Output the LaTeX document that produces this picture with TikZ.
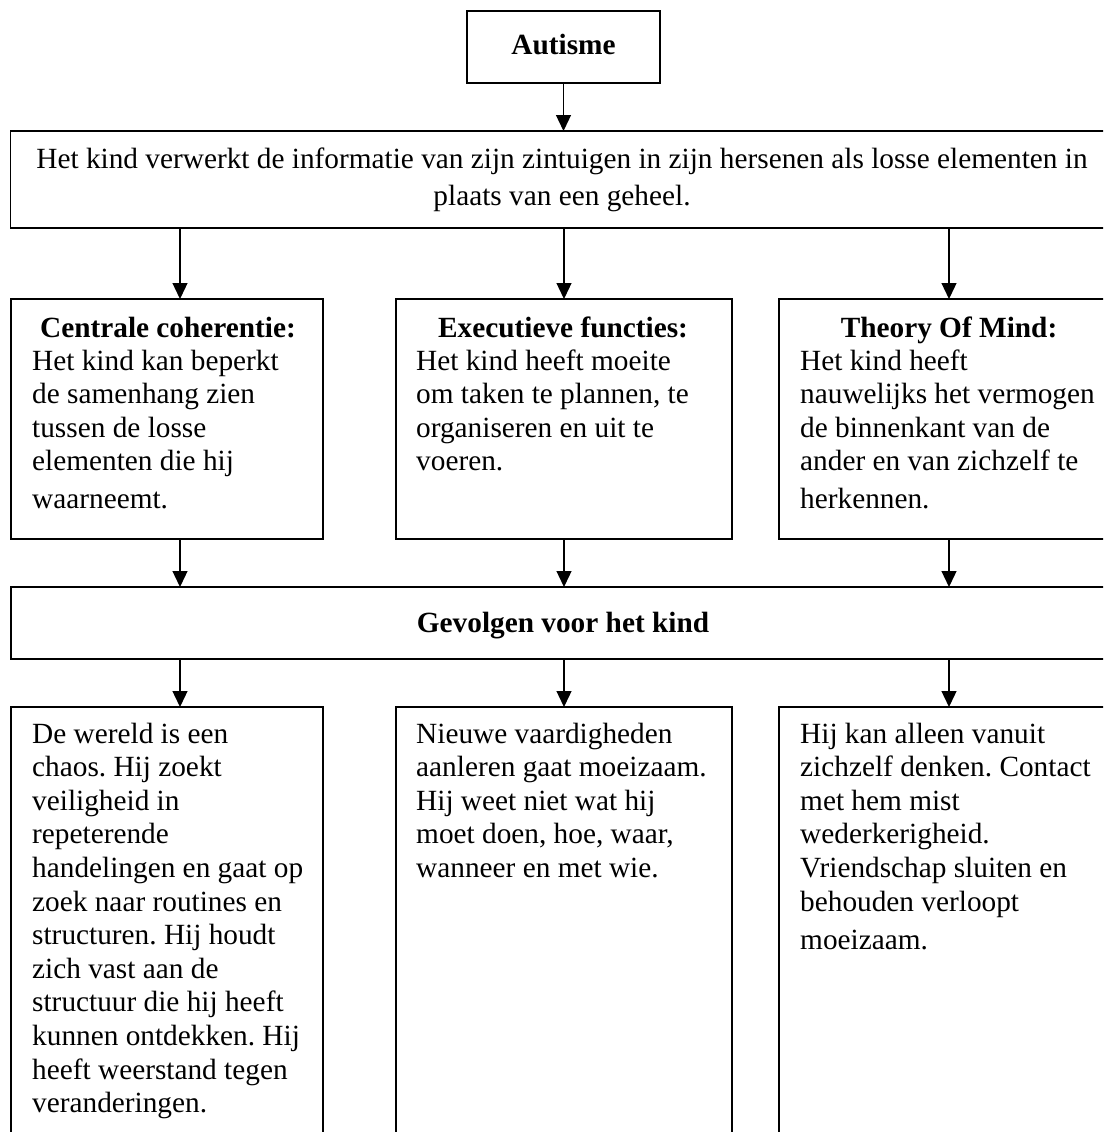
\documentclass[tikz,border=0pt]{standalone}
\usepackage{fontspec}
\setmainfont{Liberation Serif}
\usetikzlibrary{arrows.meta}
\tikzset{
  box/.style={draw, line width=1.7pt, inner sep=0pt, outer sep=0pt, anchor=north west},
  arr/.style={line width=1.3pt, -{Triangle[length=16pt,width=15pt]}},
  txt/.style={inner sep=0pt, anchor=base west, font=\fontsize{29.3}{33.6}\selectfont},
  ttl/.style={inner sep=0pt, anchor=base, font=\fontsize{29.3}{33.6}\selectfont\bfseries},
}
\frenchspacing
\begin{document}
\begin{tikzpicture}[x=1pt,y=-1pt]
\useasboundingbox (0,0) rectangle (1103,1132);
\clip (0,0) rectangle (1103,1132);
\fill[white] (0,0) rectangle (1103,1132);
% boxes
\node[box, minimum width=193pt, minimum height=72pt] (aut) at (467,11) {};
\node[box, minimum width=1104pt, minimum height=97pt] (top) at (10.5,131) {};
\node[box, minimum width=312pt, minimum height=240pt] (cc) at (11,299) {};
\node[box, minimum width=336pt, minimum height=240pt] (ef) at (396,299) {};
\node[box, minimum width=340pt, minimum height=240pt] (tom) at (779,299) {};
\node[box, minimum width=1104pt, minimum height=72pt] (gev) at (11,587) {};
\node[box, minimum width=312pt, minimum height=440pt] (b1) at (11,707) {};
\node[box, minimum width=336pt, minimum height=440pt] (b2) at (396,707) {};
\node[box, minimum width=340pt, minimum height=440pt] (b3) at (779,707) {};
% columns for connectors
\coordinate (c1) at (180,0);
\coordinate (c2) at (564,0);
\coordinate (c3) at (949,0);
% connectors
\draw[arr] (aut.south) -- (aut.south |- top.north);
\draw[arr] (c1 |- top.south) -- (c1 |- cc.north);
\draw[arr] (c2 |- top.south) -- (c2 |- ef.north);
\draw[arr] (c3 |- top.south) -- (c3 |- tom.north);
\draw[arr] (c1 |- cc.south) -- (c1 |- gev.north);
\draw[arr] (c2 |- ef.south) -- (c2 |- gev.north);
\draw[arr] (c3 |- tom.south) -- (c3 |- gev.north);
\draw[arr] (c1 |- gev.south) -- (c1 |- b1.north);
\draw[arr] (c2 |- gev.south) -- (c2 |- b2.north);
\draw[arr] (c3 |- gev.south) -- (c3 |- b3.north);
% texts
\node[ttl] (autT) at (563.5,55) {Autisme};
\node[txt, anchor=base] (topT1) at (562,168) {Het kind verwerkt de informatie van zijn zintuigen in zijn hersenen als losse elementen in};
\node[txt, anchor=base] (topT2) at (562,205) {plaats van een geheel.};
\node[ttl] (ccT) at (168,337) {Centrale coherentie:};
\node[ttl] (efT) at (563,337) {Executieve functies:};
\node[ttl] (tomT) at (949,337) {Theory Of Mind:};
\node[txt] (ccB) at (32,370) {\parbox[t]{290pt}{\raggedright Het kind kan beperkt\\ de samenhang zien\\ tussen de losse\\ elementen die hij\\[4pt] waarneemt.}};
\node[txt] (efB) at (416,370) {\parbox[t]{310pt}{\raggedright Het kind heeft moeite\\ om taken te plannen, te\\ organiseren en uit te\\ voeren.}};
\node[txt] (tomB) at (800,370) {\parbox[t]{310pt}{\raggedright Het kind heeft\\ nauwelijks het vermogen\\ de binnenkant van de\\ ander en van zichzelf te\\[4pt] herkennen.}};
\node[ttl] (gevT) at (563,632) {Gevolgen voor het kind};
\node[txt] (b1B) at (32,743) {\parbox[t]{290pt}{\raggedright De wereld is een\\ chaos. Hij zoekt\\ veiligheid in\\ repeterende\\ handelingen en gaat op\\ zoek naar routines en\\ structuren. Hij houdt\\ zich vast aan de\\ structuur die hij heeft\\ kunnen ontdekken. Hij\\ heeft weerstand tegen\\ veranderingen.}};
\node[txt] (b2B) at (416,743) {\parbox[t]{310pt}{\raggedright Nieuwe vaardigheden\\ aanleren gaat moeizaam.\\ Hij weet niet wat hij\\ moet doen, hoe, waar,\\ wanneer en met wie.}};
\node[txt] (b3B) at (800,743) {\parbox[t]{300pt}{\raggedright Hij kan alleen vanuit\\ zichzelf denken. Contact\\ met hem mist\\ wederkerigheid.\\ Vriendschap sluiten en\\ behouden verloopt\\[5pt] moeizaam.}};
\end{tikzpicture}
\end{document}
